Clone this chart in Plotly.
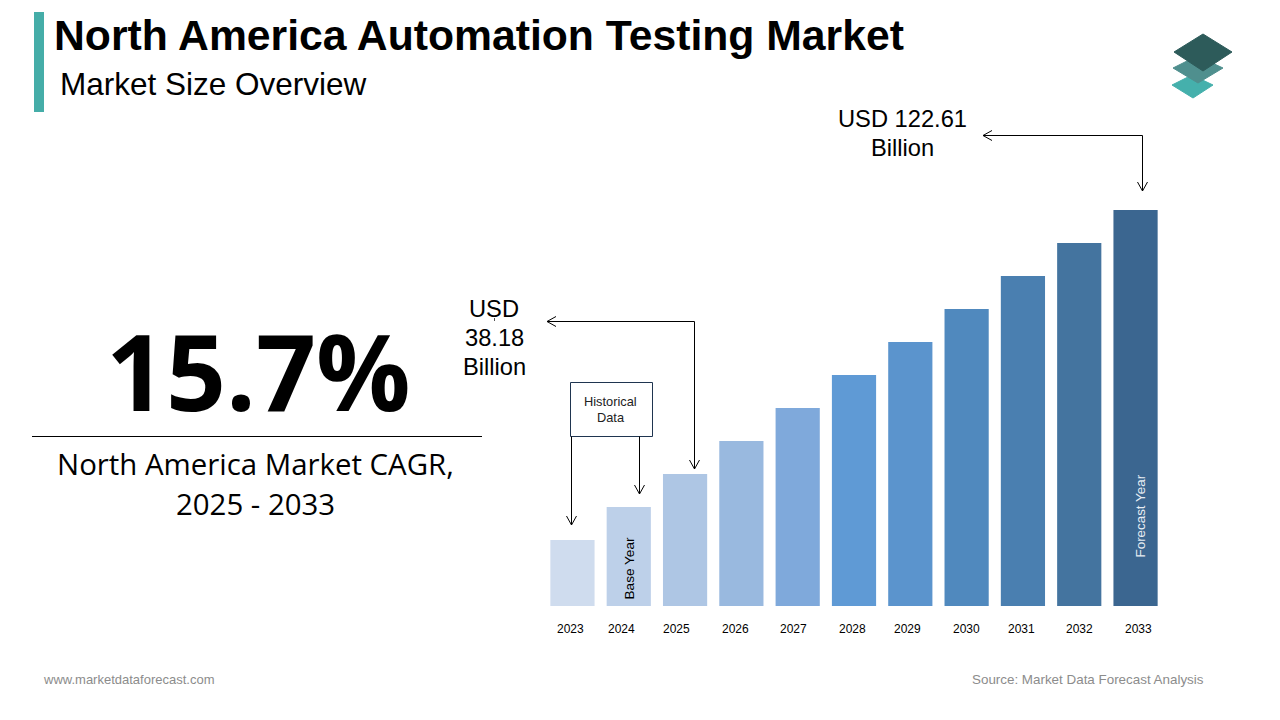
import plotly.graph_objects as go

W = 1280
H = 720

years = ['2023', '2024', '2025', '2026', '2027', '2028', '2029', '2030', '2031', '2032', '2033']
# bar heights (the chart has no value axis)
bar_heights = [66, 99, 132, 165, 198, 231, 264, 297, 330, 363, 396]
bar_colors = ['#CFDCEE', '#BDD0E9', '#AEC6E4', '#99B9DF', '#7FA9DB', '#5F9AD5',
              '#5B94CD', '#5089BE', '#4A7FB0', '#44749F', '#3B6690']
# year labels do not sit exactly under their bars in the original
year_label_x = [570.5, 621.5, 676.5, 735.5, 793.5, 852.5, 907.5, 966.5, 1021.5, 1079.5, 1138.5]


# pixel position to paper coordinates
def px(x):
    return x / W


def py(y):
    return 1 - y / H


fig = go.Figure()

fig.add_trace(go.Bar(x=years, y=bar_heights, marker=dict(color=bar_colors, line=dict(width=0)),
                     hoverinfo='skip', showlegend=False))


def add_text(x, y, text, size, color='#000000', family='Liberation Sans', bold=False, angle=0, anchor='center'):
    if bold:
        text = f'<b>{text}</b>'
    fig.add_annotation(xref='paper', yref='paper', x=px(x), y=py(y), text=text, showarrow=False,
                       xanchor=anchor, yanchor='middle', textangle=angle, align='center',
                       borderpad=0, borderwidth=0,
                       font=dict(family=family, size=size, color=color))


def add_line(x0, y0, x1, y1, color='#000000', width=1):
    fig.add_shape(type='line', xref='paper', yref='paper', x0=px(x0), y0=py(y0), x1=px(x1), y1=py(y1),
                  line=dict(color=color, width=width))


# open arrow head, tip at x, y
def add_head(x, y, direction):
    if direction == 'down':
        add_line(x - 5, y - 9, x, y)
        add_line(x + 5, y - 9, x, y)
    else:
        add_line(x + 9, y - 5, x, y)
        add_line(x + 9, y + 5, x, y)


def add_poly(points, color):
    path = 'M ' + ' L '.join(f'{px(x)} {py(y)}' for x, y in points) + ' Z'
    fig.add_shape(type='path', xref='paper', yref='paper', path=path, fillcolor=color,
                  line=dict(color=color, width=1))


# header
fig.add_shape(type='rect', xref='paper', yref='paper', x0=px(34), x1=px(44), y0=py(12), y1=py(112),
              fillcolor='#45ADA8', line=dict(width=0))
add_text(54, 35, 'North America Automation Testing Market', 42.7, bold=True, anchor='left')
add_text(60, 84, 'Market Size Overview', 31.5, anchor='left')

# logo
add_poly([(1172, 85), (1192, 75), (1213, 85), (1193, 98)], '#45B0AC')
add_poly([(1173, 68), (1197, 56), (1223, 68), (1198, 83)], '#4F8F8E')
add_poly([(1174, 52), (1203, 34), (1232, 52), (1203, 71)], '#2D5B5A')

# left side
add_text(258, 371, '15.7%', 105, family='Open Sans', bold=True)
add_line(32, 436.5, 482, 436.5)
add_text(255.5, 464, 'North America Market CAGR,', 29.4, family='Open Sans')
add_text(255.5, 504, '2025 - 2033', 29.4, family='Open Sans')

# callouts
add_text(902.5, 119, 'USD 122.61', 23.7)
add_text(902.5, 148, 'Billion', 23.7)
add_line(983, 135.5, 1142.5, 135.5)
add_line(1142.5, 135.5, 1142.5, 191)
add_head(983, 135.5, 'left')
add_head(1142.5, 191, 'down')

add_text(494, 309, 'USD', 23.7)
add_text(494, 338, '38.18', 23.7)
add_text(494, 367, 'Billion', 23.7)
add_line(494.5, 318, 494.5, 321, color='#555555')
add_line(547, 321.5, 694.5, 321.5)
add_line(694.5, 321.5, 694.5, 469)
add_head(547, 321.5, 'left')
add_head(694.5, 469, 'down')

# historical data box
fig.add_shape(type='rect', xref='paper', yref='paper', x0=px(570.5), x1=px(652.5), y0=py(382.5), y1=py(436.5),
              fillcolor='#FFFFFF', line=dict(color='#1F3550', width=1))
add_text(610.5, 401.5, 'Historical', 12.8, color='#222222')
add_text(610.5, 417.5, 'Data', 12.8, color='#222222')
add_line(571.5, 436.5, 571.5, 525)
add_line(639.5, 436.5, 639.5, 494)
add_head(571.5, 525, 'down')
add_head(639.5, 494, 'down')

add_text(628.5, 569, 'Base Year', 13.6, angle=-90)
add_text(1139.5, 516, 'Forecast Year', 13.4, color='#E6ECF3', angle=-90)

for label, x in zip(years, year_label_x):
    add_text(x, 629, label, 12)

# footer
add_text(43, 679.5, 'www.marketdataforecast.com', 13, color='#8C8C8C', anchor='left')
add_text(1204, 679.5, 'Source: Market Data Forecast Analysis', 13.4, color='#8C8C8C', anchor='right')

fig.update_layout(
    width=W, height=H, autosize=False,
    margin=dict(l=0, r=0, t=0, b=0),
    paper_bgcolor='#FFFFFF', plot_bgcolor='#FFFFFF',
    bargap=0.215,
    xaxis=dict(domain=[px(544.3), px(1163.7)], type='category', visible=False),
    yaxis=dict(domain=[py(606), py(210)], range=[0, 396], visible=False),
)

fig.write_html("out.html", config=dict(displayModeBar=False), post_script="document.body.style.margin='0';")
